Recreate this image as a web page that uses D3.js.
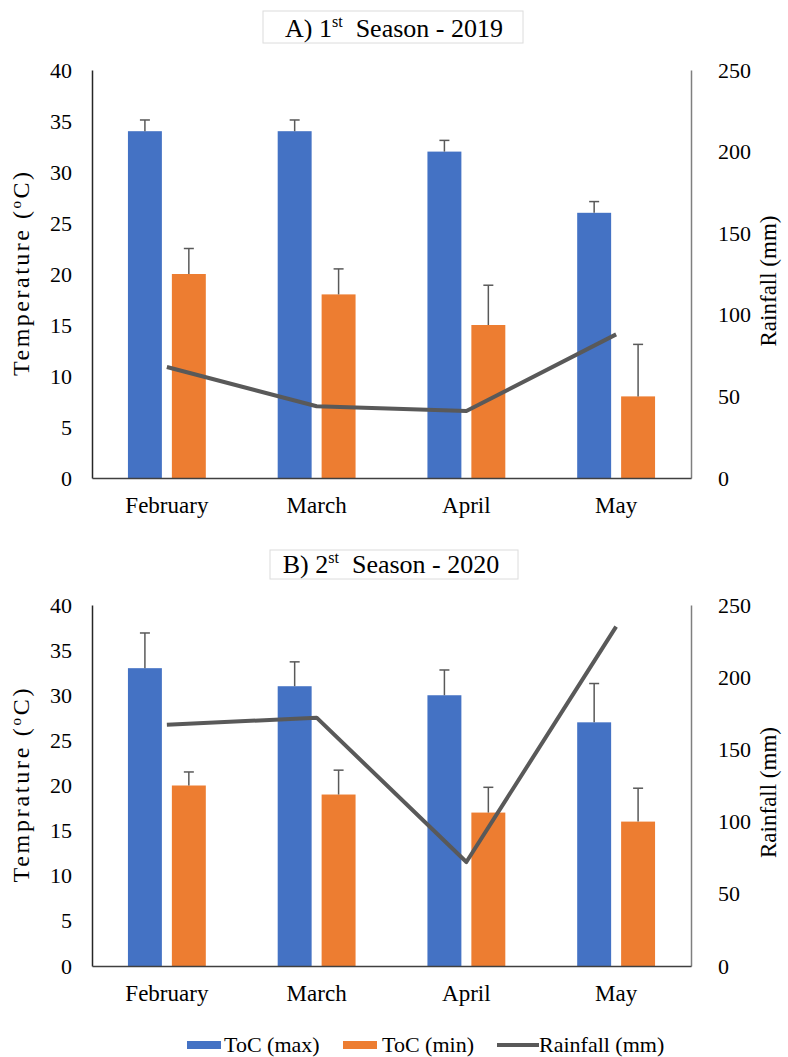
<!DOCTYPE html>
<html>
<head>
<meta charset="utf-8">
<script src="https://cdn.jsdelivr.net/npm/d3@7"></script>
<style>
  html, body { margin: 0; padding: 0; background: #fff; }
  svg { display: block; }
  svg text { font-family: 'Liberation Serif', 'Times New Roman', serif; }
</style>
</head>
<body>
<div id="chart"></div>
<script>
/* global d3 */

// Data
const MONTHS = ['February', 'March', 'April', 'May']

const TMAX_2019 = [34, 34, 32, 26]
const TMAX_ERR_2019 = [1.1, 1.1, 1.1, 1.1]
const TMIN_2019 = [20, 18, 15, 8]
const TMIN_ERR_2019 = [2.5, 2.5, 3.9, 5.1]
const RAIN_2019 = [68, 44, 41, 88]

const TMAX_2020 = [33, 31, 30, 27]
const TMAX_ERR_2020 = [3.9, 2.7, 2.8, 4.3]
const TMIN_2020 = [20, 19, 17, 16]
const TMIN_ERR_2020 = [1.5, 2.7, 2.8, 3.7]
const RAIN_2020 = [167, 172, 72, 235]

const TEMP_TICKS = [0, 5, 10, 15, 20, 25, 30, 35, 40]
const RAIN_TICKS = [0, 50, 100, 150, 200, 250]

// Chart look
const WIDTH = 788
const HEIGHT = 1057
const FONT = 'Liberation Serif, Times New Roman, serif'
const BLUE = '#4472C4'
const ORANGE = '#ED7D31'
const LINE_GRAY = '#595959'

const svg = d3.select('#chart')
  .append('svg')
  .attr('width', WIDTH)
  .attr('height', HEIGHT)
  .attr('font-family', FONT)

function drawPanel (p) {
  const left = 92
  const right = 691

  const x = d3.scaleBand()
    .domain(MONTHS)
    .range([left, right])

  const xSub = d3.scaleBand() // max / min side by side
    .domain(['max', 'min'])
    .range([0, x.bandwidth()])
    .paddingInner(10 / 44)
    .paddingOuter(0.818)

  const y = d3.scaleLinear().domain([0, 40]).range([p.bottom, p.top])
  const yRain = d3.scaleLinear().domain([0, 250]).range([p.bottom, p.top])

  const g = svg.append('g')

  // Title in its faint box
  g.append('rect')
    .attr('x', p.box[0])
    .attr('y', p.box[1])
    .attr('width', p.box[2])
    .attr('height', p.box[3])
    .attr('fill', '#fff')
    .attr('stroke', '#dcdcdc')
    .attr('stroke-width', 1)

  const title = g.append('text')
    .attr('x', p.titleX)
    .attr('y', p.titleY)
    .attr('text-anchor', 'middle')
    .style('font-size', '26px')
    .style('fill', '#000')
  title.append('tspan').text(p.title[0])
  title.append('tspan').attr('dy', -10).style('font-size', '16px').text(p.title[1])
  title.append('tspan').attr('dy', 10).attr('xml:space', 'preserve').text(p.title[2])

  // Bars
  const series = [
    { key: 'max', vals: p.tmax, errs: p.tmaxErr, color: BLUE },
    { key: 'min', vals: p.tmin, errs: p.tminErr, color: ORANGE }
  ]

  series.forEach(s => {
    const rows = MONTHS.map((m, i) => ({ m, v: s.vals[i], e: s.errs[i] }))
    const cx = d => x(d.m) + xSub(s.key) + xSub.bandwidth() / 2

    g.append('g')
      .selectAll('rect')
      .data(rows)
      .join('rect')
      .attr('x', d => x(d.m) + xSub(s.key))
      .attr('width', xSub.bandwidth())
      .attr('y', d => y(d.v))
      .attr('height', d => y(0) - y(d.v))
      .attr('fill', s.color)

    // Error bars (upper half only, like the original)
    const err = g.append('g')
      .attr('stroke', LINE_GRAY)
      .attr('stroke-width', 1.5)
    err.selectAll('line.stem')
      .data(rows)
      .join('line')
      .attr('class', 'stem')
      .attr('x1', cx)
      .attr('x2', cx)
      .attr('y1', d => y(d.v))
      .attr('y2', d => y(d.v + d.e))
    err.selectAll('line.cap')
      .data(rows)
      .join('line')
      .attr('class', 'cap')
      .attr('x1', d => cx(d) - 5)
      .attr('x2', d => cx(d) + 5)
      .attr('y1', d => y(d.v + d.e))
      .attr('y2', d => y(d.v + d.e))
  })

  // Rainfall line on the right axis
  const rainRows = MONTHS.map((m, i) => ({ m, v: p.rain[i] }))
  g.append('path')
    .datum(rainRows)
    .attr('fill', 'none')
    .attr('stroke', LINE_GRAY)
    .attr('stroke-width', 4)
    .attr('stroke-linejoin', 'round')
    .attr('d', d3.line()
      .x(d => x(d.m) + x.bandwidth() / 2)
      .y(d => yRain(d.v)))

  // Axes
  const yAxis = g.append('g')
    .attr('transform', `translate(${left},0)`)
    .call(d3.axisLeft(y).tickValues(TEMP_TICKS).tickSize(0).tickSizeOuter(0).tickPadding(20))
  const rAxis = g.append('g')
    .attr('transform', `translate(${right},0)`)
    .call(d3.axisRight(yRain).tickValues(RAIN_TICKS).tickSize(0).tickSizeOuter(0).tickPadding(27))
  const xAxis = g.append('g')
    .attr('transform', `translate(0,${p.bottom})`)
    .call(d3.axisBottom(x).tickSize(0).tickSizeOuter(0).tickPadding(19))

  ;[yAxis, rAxis, xAxis].forEach(a => {
    a.attr('font-family', FONT).attr('font-size', 22)
    a.selectAll('text').attr('fill', '#000').style('font-family', FONT)
  })
  xAxis.attr('font-size', 23)
  yAxis.select('.domain').attr('stroke', '#262626').attr('stroke-width', 1.5)
  rAxis.select('.domain').attr('stroke', '#7f7f7f').attr('stroke-width', 1.5)
  xAxis.select('.domain').attr('stroke', '#404040').attr('stroke-width', 1.5)

  // Axis titles
  const mid = (p.top + p.bottom) / 2
  const yTitle = g.append('text')
    .attr('transform', `translate(29,${mid}) rotate(-90)`)
    .attr('text-anchor', 'middle')
    .attr('textLength', p.yTitleLen)
    .attr('lengthAdjust', 'spacing')
    .style('font-size', '24px')
    .style('fill', '#000')
  yTitle.append('tspan').text(p.yTitle + ' (')
  yTitle.append('tspan').attr('dy', -8).style('font-size', '15px').text('o')
  yTitle.append('tspan').attr('dy', 8).text('C)')

  g.append('text')
    .attr('transform', `translate(776,${mid + 7}) rotate(-90)`)
    .attr('text-anchor', 'middle')
    .style('font-size', '23px')
    .style('fill', '#000')
    .text('Rainfall (mm)')
}

drawPanel({
  top: 70,
  bottom: 478,
  title: ['A) 1', 'st', '  Season - 2019'],
  titleX: 394,
  titleY: 37,
  box: [263, 11, 260, 32],
  yTitle: 'Temperature',
  yTitleLen: 204,
  tmax: TMAX_2019,
  tmaxErr: TMAX_ERR_2019,
  tmin: TMIN_2019,
  tminErr: TMIN_ERR_2019,
  rain: RAIN_2019
})

drawPanel({
  top: 605,
  bottom: 966,
  title: ['B) 2', 'st', '  Season - 2020'],
  titleX: 391,
  titleY: 573,
  box: [270, 550, 248, 29],
  yTitle: 'Temprature',
  yTitleLen: 194,
  tmax: TMAX_2020,
  tmaxErr: TMAX_ERR_2020,
  tmin: TMIN_2020,
  tminErr: TMIN_ERR_2020,
  rain: RAIN_2020
})

// Legend at the bottom
const legend = svg.append('g').style('font-size', '22px')
const LEGEND_Y = 1045

legend.append('rect').attr('x', 187).attr('y', LEGEND_Y - 4).attr('width', 34).attr('height', 8).attr('fill', BLUE)
legend.append('text').attr('x', 224).attr('y', LEGEND_Y + 7).text('ToC (max)')

legend.append('rect').attr('x', 343).attr('y', LEGEND_Y - 4).attr('width', 34).attr('height', 8).attr('fill', ORANGE)
legend.append('text').attr('x', 382).attr('y', LEGEND_Y + 7).text('ToC (min)')

legend.append('line')
  .attr('x1', 497).attr('x2', 539)
  .attr('y1', LEGEND_Y).attr('y2', LEGEND_Y)
  .attr('stroke', LINE_GRAY).attr('stroke-width', 4)
legend.append('text').attr('x', 539).attr('y', LEGEND_Y + 7).text('Rainfall (mm)')
</script>
</body>
</html>
